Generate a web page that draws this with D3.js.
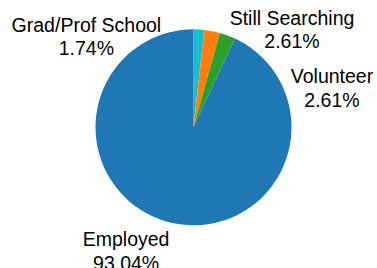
<!DOCTYPE html>
<html>
<head>
<meta charset="utf-8">
<script src="https://cdn.jsdelivr.net/npm/d3@7"></script>
<style>
  html, body { margin: 0; padding: 0; background: #fff; }
  svg { display: block; }
  .lbl { font-family: "Liberation Sans", Arial, sans-serif; font-size: 19.5px; fill: #000; }
</style>
</head>
<body>
<svg id="chart"></svg>
<script>
// slice data, clockwise from 12 o'clock
const categories = ["Grad/Prof School", "Still Searching", "Volunteer", "Employed"]
const values = [1.74, 2.61, 2.61, 93.04]
const pctLabels = ["1.74%", "2.61%", "2.61%", "93.04%"]
const colors = ["#17becf", "#ff7f0e", "#2ca02c", "#1f77b4"]

var width = 377,
    height = 268,
    cx = 193.5,
    cy = 127.3,
    radius = 98

// labels were moved off the slices by hand in the original, so nudge them
var nudges = [[-113, 12], [78, 3.5], [101, 57], [-44, 13.5]]
var lineGap = 23.5

var svg = d3.select("#chart")
    .attr("width", width)
    .attr("height", height)

var pie = d3.pie().sort(null).value(d => d)
var arcs = pie(values)

var arc = d3.arc().innerRadius(0).outerRadius(radius)
var labelArc = d3.arc().innerRadius(radius * 1.1).outerRadius(radius * 1.1)

var g = svg.append("g")
    .attr("transform", "translate(" + cx + "," + cy + ")")

g.selectAll("path")
    .data(arcs)
    .enter().append("path")
    .attr("d", arc)
    .attr("fill", (d, i) => colors[i])

var labels = g.selectAll("text")
    .data(arcs)
    .enter().append("text")
    .attr("class", "lbl")
    .attr("text-anchor", "middle")
    .attr("transform", function (d, i) {
        var p = labelArc.centroid(d)
        return "translate(" + (p[0] + nudges[i][0]) + "," + (p[1] + nudges[i][1]) + ")"
    })

labels.append("tspan")
    .attr("x", 0).attr("y", 0)
    .text((d, i) => categories[i])

labels.append("tspan")
    .attr("x", 0).attr("y", lineGap)
    .text((d, i) => pctLabels[i])
</script>
</body>
</html>
